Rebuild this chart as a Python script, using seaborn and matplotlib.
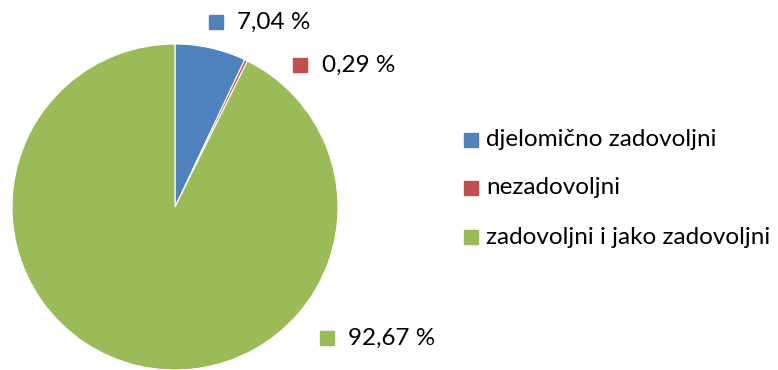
import matplotlib
matplotlib.use("Agg")
import matplotlib.pyplot as plt
from matplotlib.patches import Rectangle
import seaborn as sns

categories = ["djelomično zadovoljni", "nezadovoljni", "zadovoljni i jako zadovoljni"]
values = [7.04, 0.29, 92.67]
value_labels = ["7,04 %", "0,29 %", "92,67 %"]
colors = ["#4F81BD", "#C0504D", "#9BBB59"]

sns.set_theme(style="white")
plt.rcParams["font.family"] = ["Lato", "DejaVu Sans"]

W, H = 778, 370
fig = plt.figure(figsize=(W / 100, H / 100), dpi=100)

# pie area: centre (175, 207) px, radius 163 px
cx, cy, r = 175, 207, 163
ax = fig.add_axes([(cx - r) / W, (H - cy - r) / H, 2 * r / W, 2 * r / H])
wedges, _ = ax.pie(values, colors=colors, startangle=90, counterclock=False,
                   radius=1, wedgeprops=dict(edgecolor="white", linewidth=0.8))
ax.set_xlim(-1, 1)
ax.set_ylim(-1, 1)
ax.set_aspect("equal")
ax.axis("off")

fs = 17.5
s = 14

def px(x, y):
    return x / W, (H - y) / H

# value labels with colour keys (pixel positions of key square and text)
label_pos = [(209, 22, 237), (293, 65, 322), (320, 338, 348)]
for (sx, sy, tx), lab, col in zip(label_pos, value_labels, colors):
    fig.add_artist(Rectangle(px(sx, sy + s / 2), s / W, s / H, color=col,
                             transform=fig.transFigure))
    fig.text(*px(tx, sy), lab, fontsize=fs, va="center", ha="left", color="black")

# legend
legend_y = [140, 188, 237]
for yy, lab, col in zip(legend_y, categories, colors):
    fig.add_artist(Rectangle(px(464, yy + s / 2), s / W, s / H, color=col,
                             transform=fig.transFigure))
    fig.text(*px(486, yy), lab, fontsize=fs, va="center", ha="left", color="black")

fig.savefig("out.png", dpi=100, facecolor="white")
